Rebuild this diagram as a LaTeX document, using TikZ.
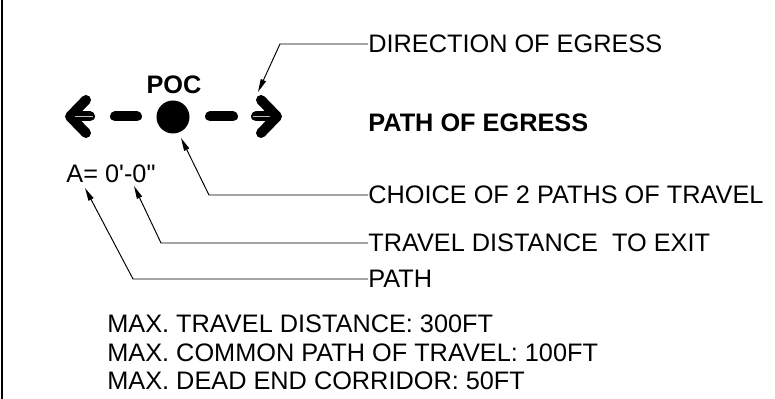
\documentclass[tikz,border=0pt]{standalone}
\usepackage{fontspec}
\setmainfont{Liberation Sans}[Ligatures=TeXOff]
\usetikzlibrary{arrows.meta}

\begin{document}
\begin{tikzpicture}[
	lbl/.style = {anchor=west, inner sep=0pt, font=\fontsize{14.4}{17}\selectfont},
	boldlbl/.style = {lbl, font=\fontsize{14.4}{17}\selectfont\bfseries},
	leader/.style = {line width=.55pt, -{Triangle[length=2.6mm,width=1.1mm]}},
	egress/.style = {line width=2mm, line cap=round, line join=round}
]

	\useasboundingbox (0,0) rectangle (15.5,7.98);
	\draw[line width=.6pt] (0.04,0) -- (0.04,7.98);

	% path of egress symbol
	\draw[egress] (1.72,5.98) -- (1.40,5.65) -- (1.72,5.32);
	\draw[egress] (1.56,5.65) -- (1.80,5.65);
	\draw[gray!50, line width=.5pt] (1.50,5.65) -- (1.86,5.65);
	\draw[egress] (2.30,5.65) -- (2.74,5.65);
	\node[circle, fill, inner sep=0pt, minimum size=6.6mm] (dot) at (3.46,5.64) {};
	\node[boldlbl, anchor=center] (poc) at (3.48,6.28) {POC};
	\draw[egress] (4.20,5.65) -- (4.66,5.65);
	\draw[egress] (5.12,5.65) -- (5.38,5.65);
	\draw[gray!50, line width=.5pt] (5.06,5.65) -- (5.44,5.65);
	\draw[egress] (5.22,5.98) -- (5.54,5.65) -- (5.22,5.32);

	\node[lbl, anchor=center] (aval) at (2.22,4.50) {A= 0'-0"};

	% notes
	\node[lbl] (dir) at (7.36,7.10) {DIRECTION OF EGRESS};
	\node[boldlbl] (egr) at (7.36,5.52) {PATH OF EGRESS};
	\node[lbl] (choice) at (7.36,4.08) {CHOICE OF 2 PATHS OF TRAVEL};
	\node[lbl] (dist) at (7.36,3.12) {TRAVEL DISTANCE\ \ TO EXIT};
	\node[lbl] (path) at (7.36,2.40) {PATH};

	\coordinate (dirbend) at (5.60,7.10);
	\coordinate (dirtip) at (5.16,6.14);
	\coordinate (choicebend) at (4.18,4.08);
	\coordinate (choicetip) at (3.62,5.22);
	\coordinate (distbend) at (3.22,3.12);
	\coordinate (disttip) at (2.68,4.26);
	\coordinate (pathbend) at (2.66,2.40);
	\coordinate (pathtip) at (1.70,4.22);

	\draw[leader] (dir.west) -- (dirbend) -- (dirtip);
	\draw[leader] (choice.west) -- (choicebend) -- (choicetip);
	\draw[leader] (dist.west) -- (distbend) -- (disttip);
	\draw[leader] (path.west) -- (pathbend) -- (pathtip);

	\node[lbl] (maxdist) at (2.14,1.50) {MAX. TRAVEL DISTANCE: 300FT};
	\node[lbl] (maxcommon) at (2.14,0.92) {MAX. COMMON PATH OF TRAVEL: 100FT};
	\node[lbl] (maxdead) at (2.14,0.36) {MAX. DEAD END CORRIDOR: 50FT};

\end{tikzpicture}
\end{document}
